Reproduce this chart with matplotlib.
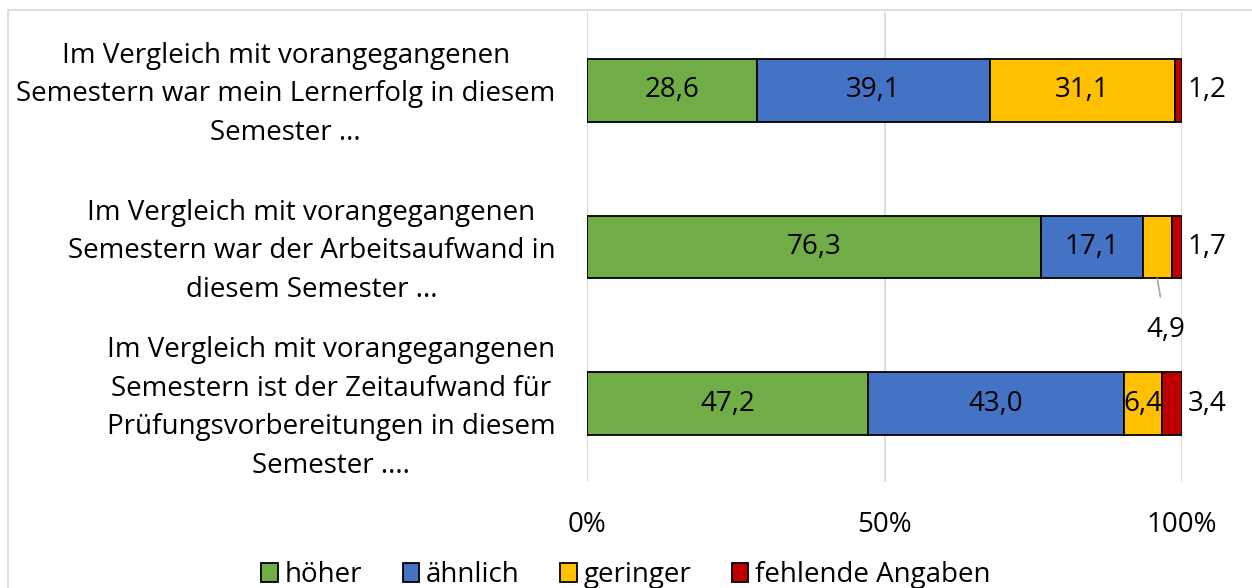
import numpy as np
import matplotlib.pyplot as plt
from matplotlib.patches import Rectangle

# data
questions = [
    "Im Vergleich mit vorangegangenen\nSemestern war mein Lernerfolg in diesem\nSemester ...",
    "Im Vergleich mit vorangegangenen\nSemestern war der Arbeitsaufwand in\ndiesem Semester ...",
    "Im Vergleich mit vorangegangenen\nSemestern ist der Zeitaufwand für\nPrüfungsvorbereitungen in diesem\nSemester ....",
]
categories = ["höher", "ähnlich", "geringer", "fehlende Angaben"]
hoeher = [28.6, 76.3, 47.2]
aehnlich = [39.1, 17.1, 43.0]
geringer = [31.1, 4.9, 6.4]
fehlend = [1.2, 1.7, 3.4]
colors = ["#70AD47", "#4472C4", "#FFC000", "#C00000"]

plt.rcParams["font.family"] = ["Open Sans", "DejaVu Sans"]
fs = 20

fig = plt.figure(figsize=(12.52, 5.88), dpi=100)
ax = fig.add_axes([0.469, 0.180, 0.475, 0.800])

series = [hoeher, aehnlich, geringer, fehlend]
y = np.arange(len(questions))
left = np.zeros(len(questions))
for vals, col, name in zip(series, colors, categories):
    vals = np.array(vals)
    ax.barh(y, vals, left=left, height=0.4, color=col, edgecolor="black",
            linewidth=1.3, label=name, zorder=3)
    for i, v in enumerate(vals):
        lbl = f"{v:.1f}".replace(".", ",")
        cx = left[i] + v / 2
        if name == "fehlende Angaben":
            ax.text(left[i] + v + 1.0, i, lbl, ha="left", va="center", fontsize=fs)
        elif name == "geringer" and v < 5.5:
            # label below with leader line
            ax.annotate(lbl, xy=(cx, i + 0.2), xytext=(cx + 1.5, i + 0.53),
                        ha="center", va="center", fontsize=fs,
                        arrowprops=dict(arrowstyle="-", color="#A6A6A6", lw=1.2,
                                        shrinkA=12, shrinkB=0))
        else:
            ax.text(cx, i, lbl, ha="center", va="center", fontsize=fs)
    left = left + vals

ax.set_xlim(0, 100)
ax.set_ylim(len(questions) - 0.5, -0.5)
ax.set_xticks([0, 50, 100])
ax.set_xticklabels(["0%", "50%", "100%"], fontsize=fs)
ax.set_yticks(y - 0.03)
ax.set_yticklabels(questions, fontsize=fs, multialignment="center", linespacing=1.5)
ax.tick_params(length=0)
ax.tick_params(axis="y", pad=23)
ax.tick_params(axis="x", pad=21)
ax.xaxis.grid(True, color="#D9D9D9", lw=1.3, zorder=0)
for s in ax.spines.values():
    s.set_visible(False)

ax.legend(loc="lower center", bbox_to_anchor=(0.5, -0.045), bbox_transform=fig.transFigure,
          ncol=4, frameon=False, fontsize=fs, handlelength=0.6, handleheight=0.7,
          handletextpad=0.25, columnspacing=1.45)

fig.patches.append(Rectangle((8 / 1252, -0.1), 1.2, 1 - 10 / 588 + 0.1,
                             transform=fig.transFigure, fill=False,
                             edgecolor="#D9D9D9", lw=1.2))

fig.savefig("out.png", dpi=100)
